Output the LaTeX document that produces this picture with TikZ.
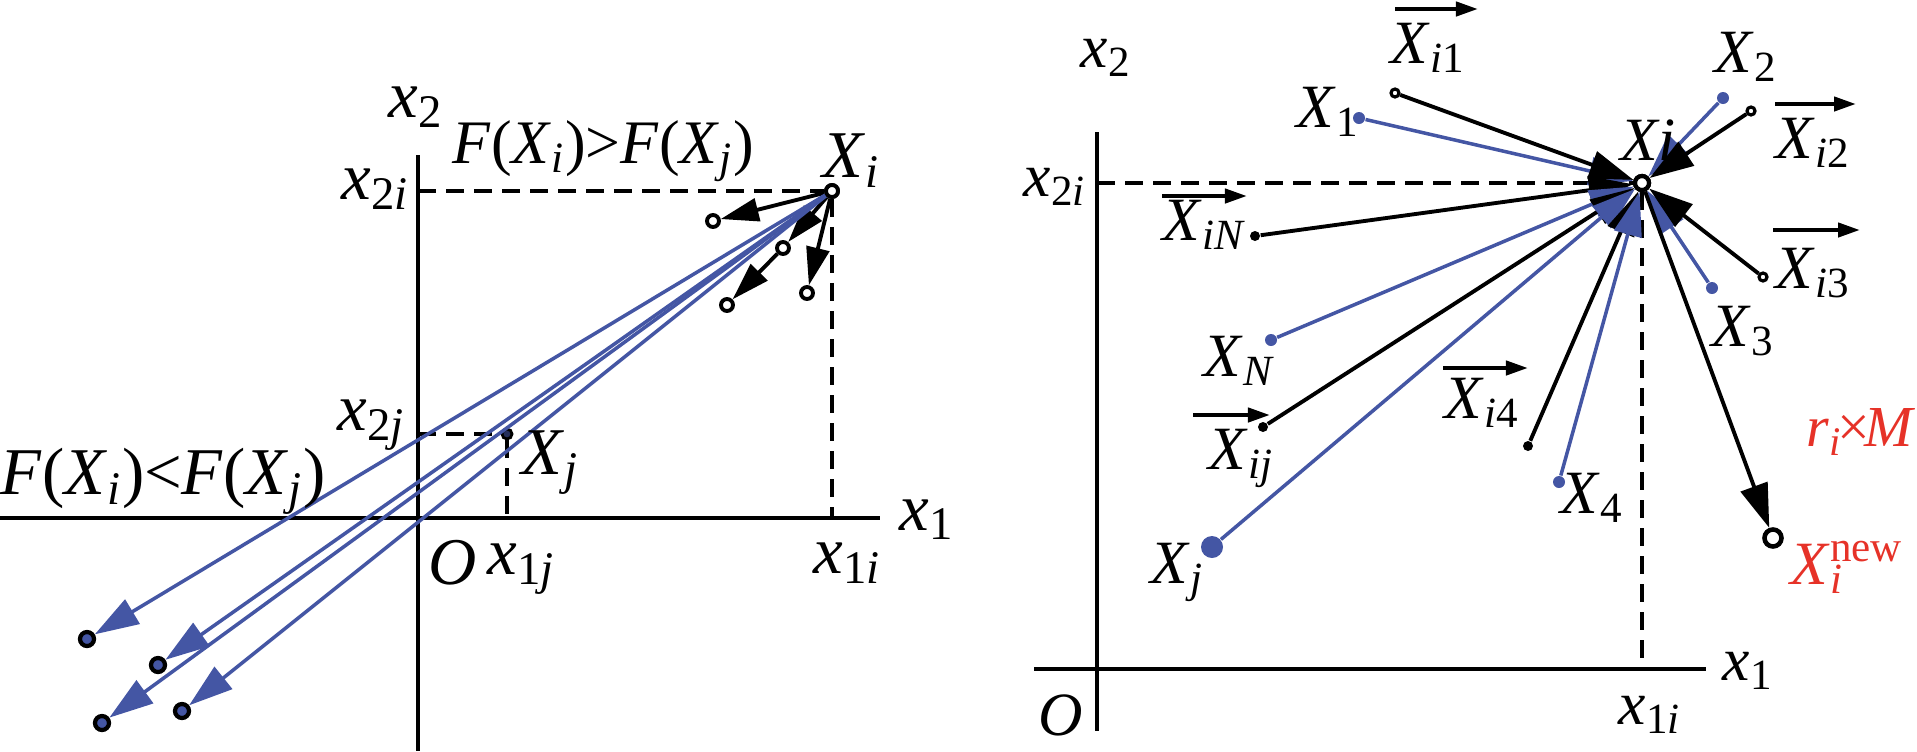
\documentclass[tikz,border=0pt]{standalone}
\usepackage{fontspec}
\setmainfont{Liberation Serif}
\usetikzlibrary{arrows.meta}
\definecolor{myblue}{RGB}{68,86,164}
\definecolor{myred}{RGB}{230,50,40}
\newcommand{\myi}{\textit{i}}
\newcommand{\myj}{\textit{j}}
\newcommand{\Xs}[1]{\textit{X}\textsubscript{#1}}
\newcommand{\xs}[1]{\textit{x}\textsubscript{#1}}
\tikzset{
  ax/.style={line width=1.15pt},
  dsh/.style={line width=1.15pt, dash pattern=on 0.18cm off 0.1cm},
  bl/.style={draw=myblue, line width=1pt, -{Triangle[length=0.44cm,width=0.28cm]}},
  bk/.style={draw=black, line width=1.1pt, -{Triangle[length=0.44cm,width=0.28cm]}},
  bks/.style={draw=black, line width=1.1pt, -{Triangle[length=0.38cm,width=0.23cm]}},
  vecarr/.style={line width=1.2pt, -{Triangle[length=0.22cm,width=0.14cm]}},
  lbl/.style={inner sep=0pt, font=\fontsize{19}{22}\selectfont},
  lbr/.style={inner sep=0pt, font=\fontsize{17.5}{20}\selectfont},
  opn/.style={circle, draw, fill=white, line width=1.1pt, inner sep=0pt, minimum size=0.12cm},
  bluend/.style={circle, draw=black, fill=myblue, line width=1.2pt, inner sep=0pt, minimum size=0.14cm},
  ldot/.style={circle, draw=black, fill=myblue!55!black, line width=0.8pt, inner sep=0pt, minimum size=0.1cm},
  sopn/.style={circle, draw, fill=white, line width=0.9pt, inner sep=0pt, minimum size=0.08cm},
  sdot/.style={circle, fill=black, inner sep=0pt, minimum size=0.1cm},
  bdot/.style={circle, fill=myblue, inner sep=0pt, minimum size=0.12cm},
  bigdot/.style={circle, fill=myblue, inner sep=0pt, minimum size=0.22cm},
  newpt/.style={circle, draw, fill=white, line width=1.3pt, inner sep=0pt, minimum size=0.17cm},
  bigopn/.style={circle, draw, fill=white, line width=1.2pt, inner sep=0pt, minimum size=0.14cm}
}
\begin{document}
\begin{tikzpicture}[x=0.01cm,y=-0.01cm]
\useasboundingbox (0,0) rectangle (1917,751);
% ================= LEFT PANEL =================
\coordinate (Lytop) at (418,155); \coordinate (Lybot) at (418,751);
\coordinate (Lxl) at (0,518); \coordinate (Lxr) at (880,518);
\draw[ax] (Lytop) -- (Lybot);
\draw[ax] (Lxl) -- (Lxr);
\node[opn] (LXi) at (832,191) {};
\node[ldot] (LXj) at (507,434) {};
\coordinate (Lx2i) at (418,191); \coordinate (Lx1i) at (832,518);
\coordinate (Lx2j) at (418,434); \coordinate (Lx1j) at (507,518);
\draw[dsh] (Lx2i) -- (LXi);
\draw[dsh] (LXi) -- (Lx1i);
\draw[dsh] (Lx2j) -- (LXj);
\draw[dsh] (LXj) -- (Lx1j);
% small circles near Xi
\node[opn] (c1) at (713,221) {};
\node[opn] (c2) at (783,248) {};
\node[opn] (c3) at (727,305) {};
\node[opn] (c4) at (807,293) {};
\draw[bks] (LXi) -- (c1);
\draw[bks] (LXi) -- (c2);
\draw[bks] (c2) -- (c3);
\draw[bks] (LXi) -- (c4);
% far points
\node[bluend] (pA) at (87,639) {};
\node[bluend] (pB) at (158,665) {};
\node[bluend] (pC) at (102,723) {};
\node[bluend] (pD) at (182,711) {};
\draw[bl] (LXi) -- (pA);
\draw[bl] (LXi) -- (pB);
\draw[bl] (LXi) -- (pC);
\draw[bl] (LXi) -- (pD);
\node[opn] at (LXi) {};
% labels
\node[lbl, anchor=base west] (Llx2) at (388,117) {\xs{2}};
\node[lbl, anchor=base west, font=\fontsize{17.6}{20}\selectfont] (LF1) at (452,163) {\textit{F}(\Xs{\myi})>\textit{F}(\Xs{\myj})};
\node[lbl, anchor=base west] (LlXi) at (822,177) {\Xs{\myi}};
\node[lbl, anchor=base east] (Llx2i) at (410,199) {\xs{2\myi}};
\node[lbl, anchor=base east] (Llx2j) at (406,430) {\xs{2\myj}};
\node[lbl, anchor=base west] (LF2) at (0,494) {\textit{F}(\Xs{\myi})<\textit{F}(\Xs{\myj})};
\node[lbl, anchor=base west] (LlXj) at (521,474) {\Xs{\myj}};
\node[lbl, anchor=base west] (LlO) at (428,584) {\textit{O}};
\node[lbl, anchor=base west] (Llx1j) at (487,574) {\xs{1\myj}};
\node[lbl, anchor=base west] (Llx1i) at (813,573) {\xs{1\myi}};
\node[lbl, anchor=base west] (Llx1) at (899,530) {\xs{1}};
% ================= RIGHT PANEL =================
\coordinate (Rytop) at (1097,132); \coordinate (Rybot) at (1097,731);
\coordinate (Rxl) at (1034,669); \coordinate (Rxr) at (1706,669);
\draw[ax] (Rytop) -- (Rybot);
\draw[ax] (Rxl) -- (Rxr);
\node[bigopn] (RXi) at (1642,183) {};
\coordinate (Rx2i) at (1097,183); \coordinate (Rx1i) at (1642,669);
\draw[dsh] (Rx2i) -- (RXi);
\draw[dsh] (RXi) -- (Rx1i);
\node[sopn] (Xi1) at (1395,93) {};
\node[bdot] (X1) at (1359,118) {};
\node[bdot] (X2) at (1723,98) {};
\node[sopn] (Xi2) at (1751,111) {};
\node[sdot] (XiN) at (1255,236) {};
\node[bdot] (XN) at (1271,340) {};
\node[sdot] (Xij) at (1263,427) {};
\node[bigdot] (Xj) at (1212,547) {};
\node[sdot] (Xi4) at (1528,446) {};
\node[bdot] (X4) at (1559,482) {};
\node[bdot] (X3) at (1712,288) {};
\node[sopn] (Xi3) at (1763,277) {};
\node[newpt] (Xnew) at (1773,538) {};
\draw[bl] (X1) -- (RXi);
\draw[bk] (Xi1) -- (RXi);
\draw[bl] (X2) -- (RXi);
\draw[bk] (Xi2) -- (RXi);
\draw[bk] (XiN) -- (RXi);
\draw[bl] (XN) -- (RXi);
\draw[bk] (Xij) -- (RXi);
\draw[bl] (Xj) -- (RXi);
\draw[bk] (Xi4) -- (RXi);
\draw[bl] (X4) -- (RXi);
\draw[bl] (X3) -- (RXi);
\draw[bk] (Xi3) -- (RXi);
\draw[bk] (RXi) -- (Xnew);
\node[bigopn] at (RXi) {};
% labels
\node[lbr, anchor=base west] (lXi1) at (1390,63) {\Xs{\myi1}};
\node[lbr, anchor=base west] (lX1) at (1296,127) {\Xs{1}};
\node[lbr, anchor=base west] (lX2) at (1714,72) {\Xs{2}};
\node[lbr, anchor=base west] (lXi2) at (1775,158) {\Xs{\myi2}};
\node[lbr, anchor=base west] (lXi3) at (1775,288) {\Xs{\myi3}};
\node[lbr, anchor=base west] (lX3) at (1711,346) {\Xs{3}};
\node[lbr, anchor=base west, text=myred] (lXnew) at (1790,584) {\textit{X}\rlap{\textsubscript{\myi}}\textsuperscript{new}};
\node[lbr, anchor=base west, text=myred, font=\fontsize{16.5}{20}\selectfont] (lrM) at (1806,446) {\textit{r}\textsubscript{\myi}\kern-1.5pt×\kern-1.5pt\textit{M}\textsubscript{\myi}};
\node[lbr, anchor=base west] (lXi4) at (1444,418) {\Xs{\myi4}};
\node[lbr, anchor=base west] (lX4) at (1560,513) {\Xs{4}};
\node[lbr, anchor=base west] (lXiN) at (1162,240) {\Xs{\textit{iN}}};
\node[lbr, anchor=base west] (lXN) at (1203,376) {\Xs{\textit{N}}};
\node[lbr, anchor=base west] (lXij) at (1208,469) {\Xs{\textit{ij}}};
\node[lbr, anchor=base west] (lXj) at (1150,583) {\Xs{\myj}};
\node[lbr, anchor=base west] (lXi) at (1620,160) {\textit{Xi}};
\node[lbr, anchor=base west] (lx2) at (1080,67) {\xs{2}};
\node[lbr, anchor=base east] (lx2i) at (1087,196) {\xs{2\myi}};
\node[lbr, anchor=base east] (lO) at (1084,735) {\textit{O}};
\node[lbr, anchor=base west] (lx1i) at (1618,724) {\xs{1\myi}};
\node[lbr, anchor=base west] (lx1) at (1722,680) {\xs{1}};
% vector arrows over labels
\coordinate (v1a) at (1395,9);   \coordinate (v1b) at (1478,9);
\coordinate (v2a) at (1775,104); \coordinate (v2b) at (1856,104);
\coordinate (v3a) at (1773,230); \coordinate (v3b) at (1860,230);
\coordinate (v4a) at (1443,368); \coordinate (v4b) at (1528,368);
\coordinate (vNa) at (1162,196); \coordinate (vNb) at (1247,196);
\coordinate (vja) at (1193,415); \coordinate (vjb) at (1270,415);
\draw[vecarr] (v1a) -- (v1b);
\draw[vecarr] (v2a) -- (v2b);
\draw[vecarr] (v3a) -- (v3b);
\draw[vecarr] (v4a) -- (v4b);
\draw[vecarr] (vNa) -- (vNb);
\draw[vecarr] (vja) -- (vjb);
\end{tikzpicture}
\end{document}
